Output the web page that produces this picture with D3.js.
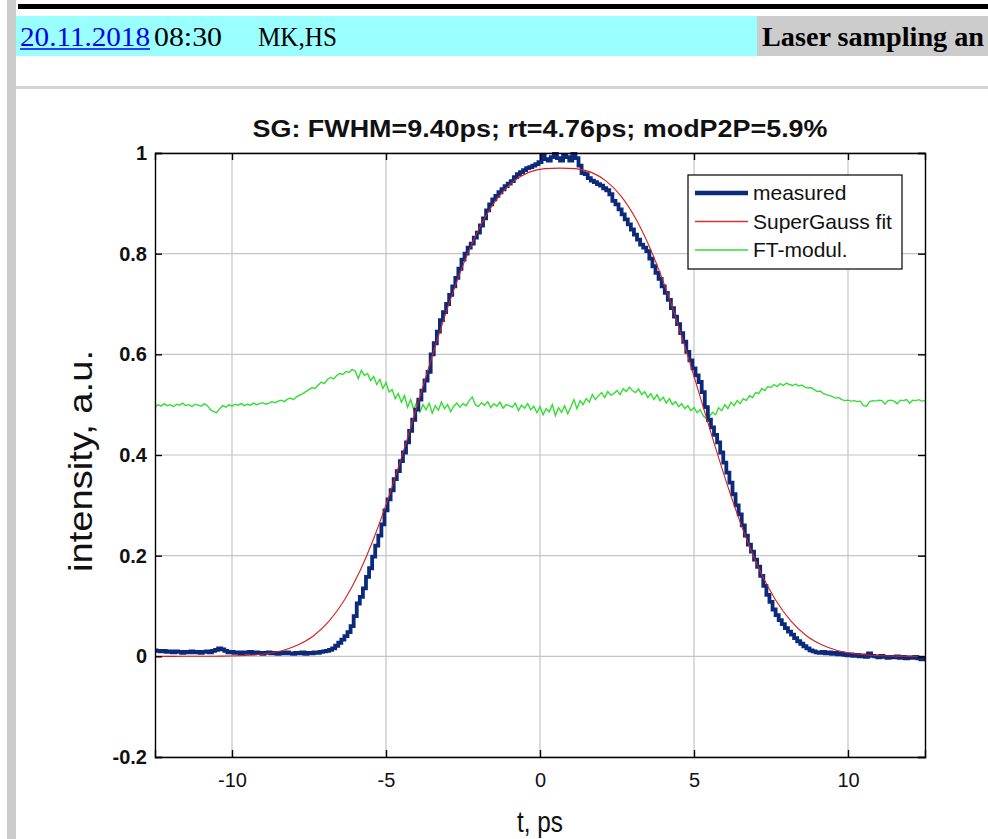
<!DOCTYPE html>
<html><head><meta charset="utf-8">
<script src="https://cdn.jsdelivr.net/npm/d3@7"></script>
<style>
html,body{margin:0;padding:0;background:#fff;}
svg{display:block;}
</style></head>
<body>
<svg id="c" width="988" height="839"></svg>
<script>
// ---------------- DATA ----------------
const titleText = "SG: FWHM=9.40ps; rt=4.76ps; modP2P=5.9%";
const xLabel = "t, ps";
const yLabel = "intensity, a.u.";
const xTicks = [-10, -5, 0, 5, 10];
const xTickLabels = ["-10", "-5", "0", "5", "10"];
const yTicks = [-0.2, 0, 0.2, 0.4, 0.6, 0.8, 1];
const yTickLabels = ["-0.2", "0", "0.2", "0.4", "0.6", "0.8", "1"];
const legendNames = ["measured", "SuperGauss fit", "FT-modul."];
const headerDate = "20.11.2018";
const headerTime = "08:30";
const headerAuthors = "MK,HS";
const headerTopic = "Laser sampling an";

// sample grid of the measured traces (ps)
const sampleStart = -12.5;
const sampleStep = 0.1;

// measured intensity, rows of 10 samples (row start in comment)
const measured = [
/* -12.5 */ 0.012,0.011,0.010,0.011,0.009,0.010,0.008,0.010,0.009,0.007,
/* -11.5 */ 0.009,0.008,0.010,0.008,0.009,0.007,0.009,0.010,0.008,0.011,
/* -10.5 */ 0.013,0.016,0.014,0.011,0.008,0.009,0.007,0.008,0.006,0.008,
/*  -9.5 */ 0.007,0.009,0.006,0.008,0.007,0.005,0.007,0.008,0.006,0.007,
/*  -8.5 */ 0.005,0.007,0.006,0.008,0.006,0.005,0.007,0.006,0.008,0.005,
/*  -7.5 */ 0.007,0.006,0.008,0.007,0.009,0.010,0.011,0.013,0.016,0.021,
/*  -6.5 */ 0.027,0.033,0.040,0.048,0.060,0.080,0.105,0.118,0.135,0.158,
/*  -5.5 */ 0.175,0.198,0.220,0.240,0.262,0.290,0.312,0.330,0.352,0.368,
/*  -4.5 */ 0.388,0.405,0.425,0.448,0.470,0.490,0.510,0.528,0.548,0.565,
/*  -3.5 */ 0.600,0.622,0.645,0.668,0.684,0.700,0.718,0.735,0.752,0.770,
/*  -2.5 */ 0.788,0.800,0.812,0.820,0.832,0.842,0.856,0.870,0.886,0.898,
/*  -1.5 */ 0.908,0.915,0.922,0.928,0.934,0.939,0.944,0.952,0.958,0.962,
/*  -0.5 */ 0.966,0.970,0.972,0.975,0.978,0.982,0.995,0.988,0.985,0.992,
/*   0.5 */ 0.998,0.990,0.985,0.996,0.992,0.985,0.998,0.990,0.975,0.960,
/*   1.5 */ 0.958,0.950,0.945,0.942,0.938,0.935,0.930,0.926,0.918,0.905,
/*   2.5 */ 0.898,0.888,0.878,0.868,0.858,0.848,0.838,0.828,0.818,0.812,
/*   3.5 */ 0.805,0.790,0.775,0.762,0.750,0.735,0.722,0.708,0.692,0.675,
/*   4.5 */ 0.660,0.642,0.625,0.605,0.588,0.572,0.558,0.545,0.525,0.495,
/*   5.5 */ 0.470,0.455,0.440,0.425,0.405,0.385,0.365,0.345,0.322,0.300,
/*   6.5 */ 0.282,0.260,0.240,0.222,0.208,0.192,0.178,0.160,0.140,0.122,
/*   7.5 */ 0.108,0.093,0.082,0.072,0.064,0.056,0.049,0.043,0.036,0.030,
/*   8.5 */ 0.025,0.020,0.016,0.012,0.010,0.008,0.007,0.009,0.006,0.008,
/*   9.5 */ 0.005,0.007,0.004,0.006,0.003,0.002,0.004,0.001,0.003,0.000,
/*  10.5 */ 0.002,-0.001,0.006,0.001,0.000,-0.002,0.001,-0.001,-0.003,-0.001,
/*  11.5 */ -0.002,0.000,-0.003,-0.001,-0.004,-0.002,-0.003,-0.001,-0.004,-0.006,
/*  12.5 */ -0.005
];

// FT-modulation trace, same grid
const ftModul = [
/* -12.5 */ 0.495,0.500,0.497,0.502,0.498,0.500,0.496,0.501,0.499,0.503,
/* -11.5 */ 0.498,0.500,0.496,0.501,0.499,0.497,0.502,0.498,0.490,0.486,
/* -10.5 */ 0.484,0.492,0.498,0.495,0.500,0.497,0.501,0.499,0.502,0.498,
/*  -9.5 */ 0.501,0.499,0.503,0.500,0.502,0.504,0.501,0.503,0.506,0.504,
/*  -8.5 */ 0.507,0.509,0.506,0.511,0.513,0.510,0.516,0.519,0.522,0.526,
/*  -7.5 */ 0.530,0.534,0.532,0.539,0.545,0.542,0.550,0.554,0.551,0.558,
/*  -6.5 */ 0.562,0.560,0.566,0.564,0.570,0.567,0.552,0.568,0.558,0.562,
/*  -5.5 */ 0.548,0.556,0.540,0.550,0.532,0.544,0.525,0.530,0.512,0.522,
/*  -4.5 */ 0.505,0.518,0.495,0.510,0.490,0.505,0.485,0.500,0.490,0.503,
/*  -3.5 */ 0.483,0.498,0.489,0.505,0.492,0.500,0.486,0.497,0.503,0.495,
/*  -2.5 */ 0.502,0.498,0.508,0.515,0.500,0.496,0.504,0.499,0.506,0.494,
/*  -1.5 */ 0.502,0.497,0.505,0.493,0.500,0.498,0.495,0.503,0.488,0.499,
/*  -0.5 */ 0.493,0.502,0.490,0.497,0.484,0.496,0.480,0.492,0.486,0.500,
/*   0.5 */ 0.478,0.494,0.485,0.498,0.482,0.495,0.510,0.492,0.508,0.500,
/*   1.5 */ 0.512,0.505,0.520,0.510,0.518,0.524,0.514,0.526,0.519,0.522,
/*   2.5 */ 0.528,0.520,0.532,0.526,0.535,0.528,0.524,0.531,0.520,0.526,
/*   3.5 */ 0.514,0.522,0.510,0.520,0.508,0.515,0.503,0.512,0.500,0.506,
/*   4.5 */ 0.496,0.502,0.492,0.498,0.488,0.494,0.484,0.490,0.478,0.472,
/*   5.5 */ 0.476,0.485,0.480,0.494,0.488,0.500,0.492,0.505,0.498,0.508,
/*   6.5 */ 0.502,0.512,0.508,0.518,0.514,0.524,0.522,0.532,0.528,0.536,
/*   7.5 */ 0.534,0.540,0.536,0.542,0.538,0.543,0.540,0.538,0.541,0.537,
/*   8.5 */ 0.539,0.535,0.533,0.534,0.530,0.526,0.527,0.522,0.520,0.518,
/*   9.5 */ 0.516,0.513,0.514,0.510,0.508,0.509,0.507,0.508,0.506,0.507,
/*  10.5 */ 0.498,0.497,0.506,0.508,0.507,0.509,0.508,0.501,0.508,0.509,
/*  11.5 */ 0.507,0.502,0.509,0.508,0.510,0.503,0.509,0.508,0.510,0.507,
/*  12.5 */ 0.508
];

// SuperGauss fit, read at these times
const fitT = [-12.5,-12.35,-11.85,-11.35,-10.85,-10.35,-9.85,-9.35,-8.85,-8.35,-7.85,-7.35,-6.85,-6.35,-5.85,-5.35,-4.85,-4.35,-3.85,-3.35,-2.85,-2.35,-1.85,-1.35,-0.85,-0.35,0.15,0.65,
  1.15,1.65,2.15,2.65,3.15,3.65,4.15,4.65,5.15,5.65,6.15,6.65,7.15,7.65,8.15,8.65,9.15,9.65,10.15,10.65,11.15,11.65,12.15,12.5];
const fitV = [0.0,0.0,0.0,0.0001,0.0002,0.0004,0.0011,0.0026,0.0056,0.0117,0.023,0.041,0.070,0.112,0.169,0.242,0.328,0.424,0.526,0.626,0.719,0.800,0.865,0.913,0.944,0.962,0.969,0.970,
  0.969,0.962,0.944,0.913,0.865,0.800,0.719,0.626,0.526,0.424,0.328,0.242,0.169,0.112,0.070,0.041,0.023,0.0117,0.0056,0.0026,0.0011,0.0004,0.0002,0.0001];

// ---------------- DRAW ----------------
const svg = d3.select("#c");
const SANS = "'Liberation Sans', Arial, Helvetica, sans-serif";
const SERIF = "'Liberation Serif', 'Times New Roman', serif";

// page decorations (HTML-like header)
svg.append("rect").attr("x",7).attr("y",0).attr("width",9).attr("height",839).attr("fill","#cccccc");
svg.append("rect").attr("x",18).attr("y",4).attr("width",970).attr("height",5).attr("fill","#000");
svg.append("rect").attr("x",16).attr("y",16).attr("width",741).attr("height",40).attr("fill","#99ffff");
svg.append("rect").attr("x",757).attr("y",16).attr("width",231).attr("height",40).attr("fill","#cccccc");
svg.append("rect").attr("x",16).attr("y",86).attr("width",972).attr("height",3).attr("fill","#d4d4d4");

svg.append("text").attr("x",20).attr("y",46).attr("font-family",SERIF).attr("font-size",27)
  .attr("fill","#0000ee")
  .attr("textLength",130).attr("lengthAdjust","spacingAndGlyphs").text(headerDate);
svg.append("line").attr("x1",20).attr("x2",150).attr("y1",49).attr("y2",49).attr("stroke","#0000ee").attr("stroke-width",1.3);
svg.append("text").attr("x",154).attr("y",46).attr("font-family",SERIF).attr("font-size",27)
  .attr("textLength",68).attr("lengthAdjust","spacingAndGlyphs").text(headerTime);
svg.append("text").attr("x",258).attr("y",46).attr("font-family",SERIF).attr("font-size",27)
  .attr("textLength",79).attr("lengthAdjust","spacingAndGlyphs").text(headerAuthors);
svg.append("text").attr("x",762).attr("y",46).attr("font-family",SERIF).attr("font-size",27)
  .attr("font-weight","bold").attr("textLength",222).attr("lengthAdjust","spacingAndGlyphs").text(headerTopic);

// plot area
const L = 155, R = 925, T = 153, B = 757;
const x = d3.scaleLinear().domain([-12.5, 12.5]).range([L, R]);
const y = d3.scaleLinear().domain([-0.2, 1]).range([B, T]);

svg.append("rect").attr("x",L).attr("y",T).attr("width",R-L).attr("height",B-T).attr("fill","#fff");

// grid
const grid = svg.append("g").attr("stroke","#c4c4c4").attr("stroke-width",1.2);
grid.selectAll("line.gx").data(xTicks).join("line").attr("class","gx")
  .attr("x1",d=>x(d)).attr("x2",d=>x(d)).attr("y1",T).attr("y2",B);
grid.selectAll("line.gy").data(yTicks).join("line").attr("class","gy")
  .attr("x1",L).attr("x2",R).attr("y1",d=>y(d)).attr("y2",d=>y(d));

// clip
svg.append("clipPath").attr("id","clip").append("rect").attr("x",L).attr("y",T-3).attr("width",R-L).attr("height",B-T+3);

const tVals = measured.map((_, i) => sampleStart + i * sampleStep);
const lineG = d3.line().x((d,i)=>x(tVals[i])).y(d=>y(d));
const lineM = d3.line().x((d,i)=>x(tVals[i])).y(d=>y(d)).curve(d3.curveStep);
const lineF = d3.line().x((d,i)=>x(fitT[i])).y(d=>y(d)).curve(d3.curveMonotoneX);

const plot = svg.append("g").attr("clip-path","url(#clip)");
plot.append("path").datum(ftModul).attr("d",lineG).attr("fill","none")
  .attr("stroke","#33dd33").attr("stroke-width",1.4);
plot.append("path").datum(measured).attr("d",lineM).attr("fill","none")
  .attr("stroke","#0c2a7c").attr("stroke-width",3.8).attr("stroke-linejoin","miter");
plot.append("path").datum(fitV).attr("d",lineF).attr("fill","none")
  .attr("stroke","#d42020").attr("stroke-width",1.1);

// axes
const axB = svg.append("g").attr("transform",`translate(0,${B})`)
  .call(d3.axisBottom(x).tickValues(xTicks).tickSize(-7).tickPadding(16).tickFormat((d,i)=>xTickLabels[i]));
const axT = svg.append("g").attr("transform",`translate(0,${T})`)
  .call(d3.axisTop(x).tickValues(xTicks).tickSize(-7).tickFormat(""));
const axL = svg.append("g").attr("transform",`translate(${L},0)`)
  .call(d3.axisLeft(y).tickValues(yTicks).tickSize(-7).tickPadding(8).tickFormat((d,i)=>yTickLabels[i]));
const axR = svg.append("g").attr("transform",`translate(${R},0)`)
  .call(d3.axisRight(y).tickValues(yTicks).tickSize(-7).tickFormat(""));
[axB,axT,axL,axR].forEach(a=>{
  a.select(".domain").attr("stroke","#000").attr("stroke-width",1.4);
  a.selectAll(".tick line").attr("stroke","#000").attr("stroke-width",1.4);
});
axB.selectAll(".tick text").attr("font-family",SANS).attr("font-size",20).attr("fill","#111");
axL.selectAll(".tick text").attr("font-family",SANS).attr("font-size",20).attr("font-weight","bold").attr("fill","#111");

// titles
svg.append("text").attr("x",540).attr("y",137).attr("text-anchor","middle")
  .attr("font-family",SANS).attr("font-size",23).attr("font-weight","bold").attr("fill","#111")
  .attr("textLength",575).attr("lengthAdjust","spacingAndGlyphs")
  .text(titleText);
svg.append("text").attr("x",540).attr("y",832).attr("text-anchor","middle")
  .attr("font-family",SANS).attr("font-size",29).attr("fill","#111")
  .attr("textLength",46).attr("lengthAdjust","spacingAndGlyphs").text(xLabel);
svg.append("text").attr("transform","translate(92,461) rotate(-90)").attr("text-anchor","middle")
  .attr("font-family",SANS).attr("font-size",33).attr("fill","#111")
  .attr("textLength",222).attr("lengthAdjust","spacingAndGlyphs").text(yLabel);

// legend
const lg = svg.append("g");
lg.append("rect").attr("x",688).attr("y",175).attr("width",214).attr("height",94)
  .attr("fill","#fff").attr("stroke","#000").attr("stroke-width",1.2);
const legStyles = [
  {c:"#0c2a7c", w:4.5},
  {c:"#e03030", w:1.4},
  {c:"#33dd33", w:1.6}
];
const legY = d3.scalePoint().domain(legendNames).range([193, 250]);
legendNames.forEach((n,i)=>{
  lg.append("line").attr("x1",695).attr("x2",748).attr("y1",legY(n)).attr("y2",legY(n))
    .attr("stroke",legStyles[i].c).attr("stroke-width",legStyles[i].w);
  lg.append("text").attr("x",753).attr("y",legY(n)+7).attr("font-family",SANS).attr("font-size",21)
    .attr("fill","#111").text(n);
});
</script>
</body></html>
